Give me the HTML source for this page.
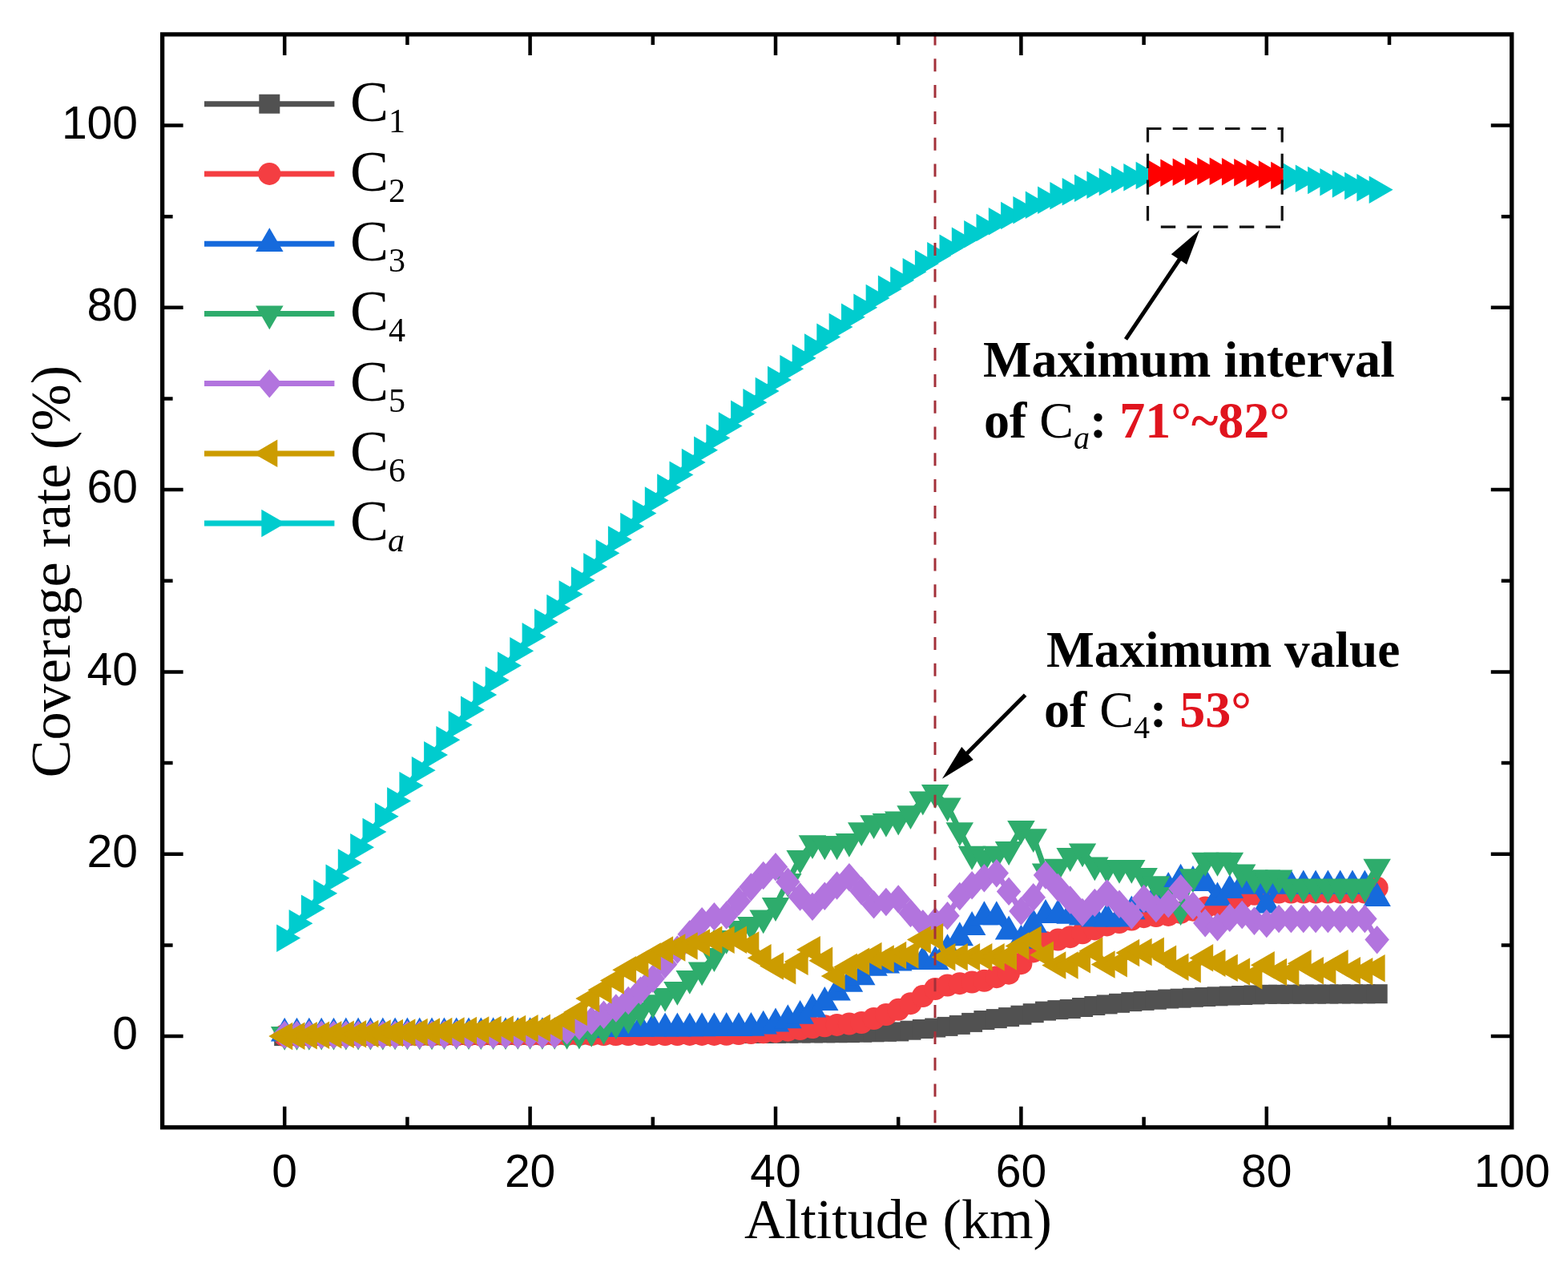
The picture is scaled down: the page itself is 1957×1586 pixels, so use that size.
<!DOCTYPE html>
<html><head><meta charset="utf-8"><style>
html,body{margin:0;padding:0;background:#fff;}
svg{display:block;}
.tk{font-family:"Liberation Sans",Arial,sans-serif;font-size:57px;fill:#000;}
.ti{font-family:"Liberation Serif","Times New Roman",serif;font-size:70.2px;fill:#000;}
.lg{font-family:"Liberation Serif","Times New Roman",serif;font-size:72px;fill:#000;}
.lg .sb{font-size:42px;font-style:normal;}
.an{font-family:"Liberation Serif","Times New Roman",serif;font-size:64px;font-weight:bold;fill:#000;}
.an .it{font-weight:normal;font-style:italic;}
.an .sb{font-size:40px;font-weight:normal;}
.an .cc{font-weight:normal;}
.an .rd{fill:#e0141e;}
</style></head><body>
<svg width="1957" height="1586" viewBox="0 0 1957 1586">
<rect width="1957" height="1586" fill="#fff"/>
<g>
<path d="M355.2,1293.1L370.5,1293.0L385.8,1292.9L401.2,1292.9L416.5,1292.8L431.8,1292.7L447.1,1292.6L462.4,1292.6L477.8,1292.5L493.1,1292.4L508.4,1292.3L523.7,1292.3L539.0,1292.2L554.4,1292.1L569.7,1292.0L585.0,1292.0L600.3,1291.9L615.6,1291.8L631.0,1291.7L646.3,1291.7L661.6,1291.6L676.9,1291.5L692.2,1291.4L707.6,1291.4L722.9,1291.3L738.2,1291.2L753.5,1291.1L768.8,1291.1L784.2,1291.0L799.5,1290.9L814.8,1290.8L830.1,1290.7L845.4,1290.6L860.8,1290.5L876.1,1290.4L891.4,1290.3L906.7,1290.2L922.0,1290.1L937.4,1290.0L952.7,1289.9L968.0,1289.8L983.3,1289.7L998.6,1289.5L1014.0,1289.4L1029.3,1289.3L1044.6,1289.2L1059.9,1289.1L1075.2,1288.7L1090.6,1288.3L1105.9,1287.8L1121.2,1287.4L1136.5,1285.7L1151.8,1284.0L1167.2,1282.5L1182.5,1280.9L1197.8,1278.9L1213.1,1275.9L1228.4,1273.0L1243.8,1271.1L1259.1,1269.1L1274.4,1266.7L1289.7,1264.2L1305.0,1261.6L1320.4,1260.1L1335.7,1259.0L1351.0,1257.0L1366.3,1255.0L1381.6,1253.4L1397.0,1251.8L1412.3,1250.1L1427.6,1248.9L1442.9,1247.7L1458.2,1246.5L1473.6,1245.7L1488.9,1244.8L1504.2,1244.0L1519.5,1243.3L1534.8,1242.6L1550.2,1242.0L1565.5,1241.4L1580.8,1240.8L1596.1,1240.8L1611.4,1240.7L1626.8,1240.6L1642.1,1240.6L1657.4,1240.5L1672.7,1240.4L1688.0,1240.4L1703.4,1240.3L1718.7,1240.2" fill="none" stroke="#515151" stroke-width="7" stroke-linejoin="round"/>
<rect x="342.2" y="1281.1" width="26" height="24" fill="#515151"/>
<rect x="357.5" y="1281.0" width="26" height="24" fill="#515151"/>
<rect x="372.8" y="1280.9" width="26" height="24" fill="#515151"/>
<rect x="388.2" y="1280.9" width="26" height="24" fill="#515151"/>
<rect x="403.5" y="1280.8" width="26" height="24" fill="#515151"/>
<rect x="418.8" y="1280.7" width="26" height="24" fill="#515151"/>
<rect x="434.1" y="1280.6" width="26" height="24" fill="#515151"/>
<rect x="449.4" y="1280.6" width="26" height="24" fill="#515151"/>
<rect x="464.8" y="1280.5" width="26" height="24" fill="#515151"/>
<rect x="480.1" y="1280.4" width="26" height="24" fill="#515151"/>
<rect x="495.4" y="1280.3" width="26" height="24" fill="#515151"/>
<rect x="510.7" y="1280.3" width="26" height="24" fill="#515151"/>
<rect x="526.0" y="1280.2" width="26" height="24" fill="#515151"/>
<rect x="541.4" y="1280.1" width="26" height="24" fill="#515151"/>
<rect x="556.7" y="1280.0" width="26" height="24" fill="#515151"/>
<rect x="572.0" y="1280.0" width="26" height="24" fill="#515151"/>
<rect x="587.3" y="1279.9" width="26" height="24" fill="#515151"/>
<rect x="602.6" y="1279.8" width="26" height="24" fill="#515151"/>
<rect x="618.0" y="1279.7" width="26" height="24" fill="#515151"/>
<rect x="633.3" y="1279.7" width="26" height="24" fill="#515151"/>
<rect x="648.6" y="1279.6" width="26" height="24" fill="#515151"/>
<rect x="663.9" y="1279.5" width="26" height="24" fill="#515151"/>
<rect x="679.2" y="1279.4" width="26" height="24" fill="#515151"/>
<rect x="694.6" y="1279.4" width="26" height="24" fill="#515151"/>
<rect x="709.9" y="1279.3" width="26" height="24" fill="#515151"/>
<rect x="725.2" y="1279.2" width="26" height="24" fill="#515151"/>
<rect x="740.5" y="1279.1" width="26" height="24" fill="#515151"/>
<rect x="755.8" y="1279.1" width="26" height="24" fill="#515151"/>
<rect x="771.2" y="1279.0" width="26" height="24" fill="#515151"/>
<rect x="786.5" y="1278.9" width="26" height="24" fill="#515151"/>
<rect x="801.8" y="1278.8" width="26" height="24" fill="#515151"/>
<rect x="817.1" y="1278.7" width="26" height="24" fill="#515151"/>
<rect x="832.4" y="1278.6" width="26" height="24" fill="#515151"/>
<rect x="847.8" y="1278.5" width="26" height="24" fill="#515151"/>
<rect x="863.1" y="1278.4" width="26" height="24" fill="#515151"/>
<rect x="878.4" y="1278.3" width="26" height="24" fill="#515151"/>
<rect x="893.7" y="1278.2" width="26" height="24" fill="#515151"/>
<rect x="909.0" y="1278.1" width="26" height="24" fill="#515151"/>
<rect x="924.4" y="1278.0" width="26" height="24" fill="#515151"/>
<rect x="939.7" y="1277.9" width="26" height="24" fill="#515151"/>
<rect x="955.0" y="1277.8" width="26" height="24" fill="#515151"/>
<rect x="970.3" y="1277.7" width="26" height="24" fill="#515151"/>
<rect x="985.6" y="1277.5" width="26" height="24" fill="#515151"/>
<rect x="1001.0" y="1277.4" width="26" height="24" fill="#515151"/>
<rect x="1016.3" y="1277.3" width="26" height="24" fill="#515151"/>
<rect x="1031.6" y="1277.2" width="26" height="24" fill="#515151"/>
<rect x="1046.9" y="1277.1" width="26" height="24" fill="#515151"/>
<rect x="1062.2" y="1276.7" width="26" height="24" fill="#515151"/>
<rect x="1077.6" y="1276.3" width="26" height="24" fill="#515151"/>
<rect x="1092.9" y="1275.8" width="26" height="24" fill="#515151"/>
<rect x="1108.2" y="1275.4" width="26" height="24" fill="#515151"/>
<rect x="1123.5" y="1273.7" width="26" height="24" fill="#515151"/>
<rect x="1138.8" y="1272.0" width="26" height="24" fill="#515151"/>
<rect x="1154.2" y="1270.5" width="26" height="24" fill="#515151"/>
<rect x="1169.5" y="1268.9" width="26" height="24" fill="#515151"/>
<rect x="1184.8" y="1266.9" width="26" height="24" fill="#515151"/>
<rect x="1200.1" y="1263.9" width="26" height="24" fill="#515151"/>
<rect x="1215.4" y="1261.0" width="26" height="24" fill="#515151"/>
<rect x="1230.8" y="1259.1" width="26" height="24" fill="#515151"/>
<rect x="1246.1" y="1257.1" width="26" height="24" fill="#515151"/>
<rect x="1261.4" y="1254.7" width="26" height="24" fill="#515151"/>
<rect x="1276.7" y="1252.2" width="26" height="24" fill="#515151"/>
<rect x="1292.0" y="1249.6" width="26" height="24" fill="#515151"/>
<rect x="1307.4" y="1248.1" width="26" height="24" fill="#515151"/>
<rect x="1322.7" y="1247.0" width="26" height="24" fill="#515151"/>
<rect x="1338.0" y="1245.0" width="26" height="24" fill="#515151"/>
<rect x="1353.3" y="1243.0" width="26" height="24" fill="#515151"/>
<rect x="1368.6" y="1241.4" width="26" height="24" fill="#515151"/>
<rect x="1384.0" y="1239.8" width="26" height="24" fill="#515151"/>
<rect x="1399.3" y="1238.1" width="26" height="24" fill="#515151"/>
<rect x="1414.6" y="1236.9" width="26" height="24" fill="#515151"/>
<rect x="1429.9" y="1235.7" width="26" height="24" fill="#515151"/>
<rect x="1445.2" y="1234.5" width="26" height="24" fill="#515151"/>
<rect x="1460.6" y="1233.7" width="26" height="24" fill="#515151"/>
<rect x="1475.9" y="1232.8" width="26" height="24" fill="#515151"/>
<rect x="1491.2" y="1232.0" width="26" height="24" fill="#515151"/>
<rect x="1506.5" y="1231.3" width="26" height="24" fill="#515151"/>
<rect x="1521.8" y="1230.6" width="26" height="24" fill="#515151"/>
<rect x="1537.2" y="1230.0" width="26" height="24" fill="#515151"/>
<rect x="1552.5" y="1229.4" width="26" height="24" fill="#515151"/>
<rect x="1567.8" y="1228.8" width="26" height="24" fill="#515151"/>
<rect x="1583.1" y="1228.8" width="26" height="24" fill="#515151"/>
<rect x="1598.4" y="1228.7" width="26" height="24" fill="#515151"/>
<rect x="1613.8" y="1228.6" width="26" height="24" fill="#515151"/>
<rect x="1629.1" y="1228.6" width="26" height="24" fill="#515151"/>
<rect x="1644.4" y="1228.5" width="26" height="24" fill="#515151"/>
<rect x="1659.7" y="1228.4" width="26" height="24" fill="#515151"/>
<rect x="1675.0" y="1228.4" width="26" height="24" fill="#515151"/>
<rect x="1690.4" y="1228.3" width="26" height="24" fill="#515151"/>
<rect x="1705.7" y="1228.2" width="26" height="24" fill="#515151"/>
<path d="M355.2,1292.0L370.5,1291.9L385.8,1291.9L401.2,1291.9L416.5,1291.8L431.8,1291.8L447.1,1291.8L462.4,1291.7L477.8,1291.7L493.1,1291.7L508.4,1291.6L523.7,1291.6L539.0,1291.6L554.4,1291.6L569.7,1291.5L585.0,1291.5L600.3,1291.5L615.6,1291.4L631.0,1291.4L646.3,1291.4L661.6,1291.3L676.9,1291.3L692.2,1291.3L707.6,1291.2L722.9,1291.2L738.2,1291.2L753.5,1291.1L768.8,1291.1L784.2,1291.1L799.5,1291.0L814.8,1291.0L830.1,1291.0L845.4,1291.0L860.8,1290.9L876.1,1290.9L891.4,1290.9L906.7,1290.8L922.0,1290.0L937.4,1289.1L952.7,1288.3L968.0,1287.4L983.3,1285.7L998.6,1284.0L1014.0,1282.1L1029.3,1280.3L1044.6,1278.9L1059.9,1277.5L1075.2,1276.1L1090.6,1271.0L1105.9,1266.0L1121.2,1259.8L1136.5,1252.2L1151.8,1243.1L1167.2,1234.0L1182.5,1229.5L1197.8,1227.2L1213.1,1225.5L1228.4,1223.8L1243.8,1219.2L1259.1,1214.7L1274.4,1202.2L1289.7,1187.4L1305.0,1176.0L1320.4,1172.6L1335.7,1169.2L1351.0,1164.3L1366.3,1159.4L1381.6,1154.4L1397.0,1151.0L1412.3,1147.6L1427.6,1144.2L1442.9,1143.1L1458.2,1141.9L1473.6,1138.8L1488.9,1135.7L1504.2,1132.6L1519.5,1129.4L1534.8,1124.9L1550.2,1120.3L1565.5,1115.8L1580.8,1113.5L1596.1,1113.5L1611.4,1113.5L1626.8,1113.5L1642.1,1113.5L1657.4,1113.5L1672.7,1113.5L1688.0,1113.5L1703.4,1113.5L1718.7,1107.8" fill="none" stroke="#f43e42" stroke-width="7" stroke-linejoin="round"/>
<circle cx="355.2" cy="1292.0" r="14.0" fill="#f43e42"/>
<circle cx="370.5" cy="1291.9" r="14.0" fill="#f43e42"/>
<circle cx="385.8" cy="1291.9" r="14.0" fill="#f43e42"/>
<circle cx="401.2" cy="1291.9" r="14.0" fill="#f43e42"/>
<circle cx="416.5" cy="1291.8" r="14.0" fill="#f43e42"/>
<circle cx="431.8" cy="1291.8" r="14.0" fill="#f43e42"/>
<circle cx="447.1" cy="1291.8" r="14.0" fill="#f43e42"/>
<circle cx="462.4" cy="1291.7" r="14.0" fill="#f43e42"/>
<circle cx="477.8" cy="1291.7" r="14.0" fill="#f43e42"/>
<circle cx="493.1" cy="1291.7" r="14.0" fill="#f43e42"/>
<circle cx="508.4" cy="1291.6" r="14.0" fill="#f43e42"/>
<circle cx="523.7" cy="1291.6" r="14.0" fill="#f43e42"/>
<circle cx="539.0" cy="1291.6" r="14.0" fill="#f43e42"/>
<circle cx="554.4" cy="1291.6" r="14.0" fill="#f43e42"/>
<circle cx="569.7" cy="1291.5" r="14.0" fill="#f43e42"/>
<circle cx="585.0" cy="1291.5" r="14.0" fill="#f43e42"/>
<circle cx="600.3" cy="1291.5" r="14.0" fill="#f43e42"/>
<circle cx="615.6" cy="1291.4" r="14.0" fill="#f43e42"/>
<circle cx="631.0" cy="1291.4" r="14.0" fill="#f43e42"/>
<circle cx="646.3" cy="1291.4" r="14.0" fill="#f43e42"/>
<circle cx="661.6" cy="1291.3" r="14.0" fill="#f43e42"/>
<circle cx="676.9" cy="1291.3" r="14.0" fill="#f43e42"/>
<circle cx="692.2" cy="1291.3" r="14.0" fill="#f43e42"/>
<circle cx="707.6" cy="1291.2" r="14.0" fill="#f43e42"/>
<circle cx="722.9" cy="1291.2" r="14.0" fill="#f43e42"/>
<circle cx="738.2" cy="1291.2" r="14.0" fill="#f43e42"/>
<circle cx="753.5" cy="1291.1" r="14.0" fill="#f43e42"/>
<circle cx="768.8" cy="1291.1" r="14.0" fill="#f43e42"/>
<circle cx="784.2" cy="1291.1" r="14.0" fill="#f43e42"/>
<circle cx="799.5" cy="1291.0" r="14.0" fill="#f43e42"/>
<circle cx="814.8" cy="1291.0" r="14.0" fill="#f43e42"/>
<circle cx="830.1" cy="1291.0" r="14.0" fill="#f43e42"/>
<circle cx="845.4" cy="1291.0" r="14.0" fill="#f43e42"/>
<circle cx="860.8" cy="1290.9" r="14.0" fill="#f43e42"/>
<circle cx="876.1" cy="1290.9" r="14.0" fill="#f43e42"/>
<circle cx="891.4" cy="1290.9" r="14.0" fill="#f43e42"/>
<circle cx="906.7" cy="1290.8" r="14.0" fill="#f43e42"/>
<circle cx="922.0" cy="1290.0" r="14.0" fill="#f43e42"/>
<circle cx="937.4" cy="1289.1" r="14.0" fill="#f43e42"/>
<circle cx="952.7" cy="1288.3" r="14.0" fill="#f43e42"/>
<circle cx="968.0" cy="1287.4" r="14.0" fill="#f43e42"/>
<circle cx="983.3" cy="1285.7" r="14.0" fill="#f43e42"/>
<circle cx="998.6" cy="1284.0" r="14.0" fill="#f43e42"/>
<circle cx="1014.0" cy="1282.1" r="14.0" fill="#f43e42"/>
<circle cx="1029.3" cy="1280.3" r="14.0" fill="#f43e42"/>
<circle cx="1044.6" cy="1278.9" r="14.0" fill="#f43e42"/>
<circle cx="1059.9" cy="1277.5" r="14.0" fill="#f43e42"/>
<circle cx="1075.2" cy="1276.1" r="14.0" fill="#f43e42"/>
<circle cx="1090.6" cy="1271.0" r="14.0" fill="#f43e42"/>
<circle cx="1105.9" cy="1266.0" r="14.0" fill="#f43e42"/>
<circle cx="1121.2" cy="1259.8" r="14.0" fill="#f43e42"/>
<circle cx="1136.5" cy="1252.2" r="14.0" fill="#f43e42"/>
<circle cx="1151.8" cy="1243.1" r="14.0" fill="#f43e42"/>
<circle cx="1167.2" cy="1234.0" r="14.0" fill="#f43e42"/>
<circle cx="1182.5" cy="1229.5" r="14.0" fill="#f43e42"/>
<circle cx="1197.8" cy="1227.2" r="14.0" fill="#f43e42"/>
<circle cx="1213.1" cy="1225.5" r="14.0" fill="#f43e42"/>
<circle cx="1228.4" cy="1223.8" r="14.0" fill="#f43e42"/>
<circle cx="1243.8" cy="1219.2" r="14.0" fill="#f43e42"/>
<circle cx="1259.1" cy="1214.7" r="14.0" fill="#f43e42"/>
<circle cx="1274.4" cy="1202.2" r="14.0" fill="#f43e42"/>
<circle cx="1289.7" cy="1187.4" r="14.0" fill="#f43e42"/>
<circle cx="1305.0" cy="1176.0" r="14.0" fill="#f43e42"/>
<circle cx="1320.4" cy="1172.6" r="14.0" fill="#f43e42"/>
<circle cx="1335.7" cy="1169.2" r="14.0" fill="#f43e42"/>
<circle cx="1351.0" cy="1164.3" r="14.0" fill="#f43e42"/>
<circle cx="1366.3" cy="1159.4" r="14.0" fill="#f43e42"/>
<circle cx="1381.6" cy="1154.4" r="14.0" fill="#f43e42"/>
<circle cx="1397.0" cy="1151.0" r="14.0" fill="#f43e42"/>
<circle cx="1412.3" cy="1147.6" r="14.0" fill="#f43e42"/>
<circle cx="1427.6" cy="1144.2" r="14.0" fill="#f43e42"/>
<circle cx="1442.9" cy="1143.1" r="14.0" fill="#f43e42"/>
<circle cx="1458.2" cy="1141.9" r="14.0" fill="#f43e42"/>
<circle cx="1473.6" cy="1138.8" r="14.0" fill="#f43e42"/>
<circle cx="1488.9" cy="1135.7" r="14.0" fill="#f43e42"/>
<circle cx="1504.2" cy="1132.6" r="14.0" fill="#f43e42"/>
<circle cx="1519.5" cy="1129.4" r="14.0" fill="#f43e42"/>
<circle cx="1534.8" cy="1124.9" r="14.0" fill="#f43e42"/>
<circle cx="1550.2" cy="1120.3" r="14.0" fill="#f43e42"/>
<circle cx="1565.5" cy="1115.8" r="14.0" fill="#f43e42"/>
<circle cx="1580.8" cy="1113.5" r="14.0" fill="#f43e42"/>
<circle cx="1596.1" cy="1113.5" r="14.0" fill="#f43e42"/>
<circle cx="1611.4" cy="1113.5" r="14.0" fill="#f43e42"/>
<circle cx="1626.8" cy="1113.5" r="14.0" fill="#f43e42"/>
<circle cx="1642.1" cy="1113.5" r="14.0" fill="#f43e42"/>
<circle cx="1657.4" cy="1113.5" r="14.0" fill="#f43e42"/>
<circle cx="1672.7" cy="1113.5" r="14.0" fill="#f43e42"/>
<circle cx="1688.0" cy="1113.5" r="14.0" fill="#f43e42"/>
<circle cx="1703.4" cy="1113.5" r="14.0" fill="#f43e42"/>
<circle cx="1718.7" cy="1107.8" r="14.0" fill="#f43e42"/>
<path d="M355.2,1289.7L370.5,1289.7L385.8,1289.6L401.2,1289.6L416.5,1289.6L431.8,1289.6L447.1,1289.5L462.4,1289.5L477.8,1289.5L493.1,1289.5L508.4,1289.4L523.7,1289.4L539.0,1289.4L554.4,1289.4L569.7,1289.3L585.0,1289.3L600.3,1289.3L615.6,1289.3L631.0,1289.2L646.3,1289.2L661.6,1289.2L676.9,1289.1L692.2,1289.1L707.6,1287.8L722.9,1286.6L738.2,1285.3L753.5,1284.0L768.8,1283.9L784.2,1283.8L799.5,1283.7L814.8,1283.6L830.1,1283.5L845.4,1283.4L860.8,1283.3L876.1,1283.2L891.4,1283.2L906.7,1283.1L922.0,1283.0L937.4,1282.9L952.7,1280.6L968.0,1277.4L983.3,1273.3L998.6,1267.8L1014.0,1259.4L1029.3,1251.0L1044.6,1238.5L1059.9,1227.7L1075.2,1219.2L1090.6,1207.9L1105.9,1204.5L1121.2,1201.6L1136.5,1199.9L1151.8,1199.9L1167.2,1199.9L1182.5,1185.1L1197.8,1170.2L1213.1,1156.9L1228.4,1144.2L1243.8,1144.2L1259.1,1162.4L1274.4,1173.8L1289.7,1153.9L1305.0,1141.9L1320.4,1141.9L1335.7,1142.8L1351.0,1144.7L1366.3,1146.5L1381.6,1146.5L1397.0,1146.5L1412.3,1137.4L1427.6,1128.3L1442.9,1118.1L1458.2,1107.8L1473.6,1097.6L1488.9,1099.9L1504.2,1102.2L1519.5,1120.3L1534.8,1111.1L1550.2,1105.6L1565.5,1105.6L1580.8,1129.4L1596.1,1105.6L1611.4,1105.6L1626.8,1105.6L1642.1,1105.6L1657.4,1105.6L1672.7,1105.6L1688.0,1105.6L1703.4,1105.6L1718.7,1120.9" fill="none" stroke="#166adc" stroke-width="7" stroke-linejoin="round"/>
<path d="M355.2,1269.8L372.4,1299.6L337.9,1299.6Z" fill="#166adc"/>
<path d="M370.5,1269.7L387.8,1299.6L353.3,1299.6Z" fill="#166adc"/>
<path d="M385.8,1269.7L403.1,1299.6L368.6,1299.6Z" fill="#166adc"/>
<path d="M401.2,1269.7L418.4,1299.6L383.9,1299.6Z" fill="#166adc"/>
<path d="M416.5,1269.7L433.7,1299.5L399.2,1299.5Z" fill="#166adc"/>
<path d="M431.8,1269.6L449.0,1299.5L414.5,1299.5Z" fill="#166adc"/>
<path d="M447.1,1269.6L464.4,1299.5L429.9,1299.5Z" fill="#166adc"/>
<path d="M462.4,1269.6L479.7,1299.5L445.2,1299.5Z" fill="#166adc"/>
<path d="M477.8,1269.6L495.0,1299.4L460.5,1299.4Z" fill="#166adc"/>
<path d="M493.1,1269.5L510.3,1299.4L475.8,1299.4Z" fill="#166adc"/>
<path d="M508.4,1269.5L525.6,1299.4L491.1,1299.4Z" fill="#166adc"/>
<path d="M523.7,1269.5L541.0,1299.4L506.5,1299.4Z" fill="#166adc"/>
<path d="M539.0,1269.5L556.3,1299.3L521.8,1299.3Z" fill="#166adc"/>
<path d="M554.4,1269.4L571.6,1299.3L537.1,1299.3Z" fill="#166adc"/>
<path d="M569.7,1269.4L586.9,1299.3L552.4,1299.3Z" fill="#166adc"/>
<path d="M585.0,1269.4L602.2,1299.3L567.8,1299.3Z" fill="#166adc"/>
<path d="M600.3,1269.4L617.6,1299.2L583.1,1299.2Z" fill="#166adc"/>
<path d="M615.6,1269.3L632.9,1299.2L598.4,1299.2Z" fill="#166adc"/>
<path d="M631.0,1269.3L648.2,1299.2L613.7,1299.2Z" fill="#166adc"/>
<path d="M646.3,1269.3L663.5,1299.2L629.0,1299.2Z" fill="#166adc"/>
<path d="M661.6,1269.3L678.8,1299.1L644.3,1299.1Z" fill="#166adc"/>
<path d="M676.9,1269.2L694.2,1299.1L659.7,1299.1Z" fill="#166adc"/>
<path d="M692.2,1269.2L709.5,1299.1L675.0,1299.1Z" fill="#166adc"/>
<path d="M707.6,1267.9L724.8,1297.8L690.3,1297.8Z" fill="#166adc"/>
<path d="M722.9,1266.6L740.1,1296.5L705.6,1296.5Z" fill="#166adc"/>
<path d="M738.2,1265.4L755.5,1295.2L721.0,1295.2Z" fill="#166adc"/>
<path d="M753.5,1264.1L770.8,1294.0L736.3,1294.0Z" fill="#166adc"/>
<path d="M768.8,1264.0L786.1,1293.9L751.6,1293.9Z" fill="#166adc"/>
<path d="M784.2,1263.9L801.4,1293.8L766.9,1293.8Z" fill="#166adc"/>
<path d="M799.5,1263.8L816.7,1293.7L782.2,1293.7Z" fill="#166adc"/>
<path d="M814.8,1263.7L832.0,1293.6L797.5,1293.6Z" fill="#166adc"/>
<path d="M830.1,1263.6L847.4,1293.5L812.9,1293.5Z" fill="#166adc"/>
<path d="M845.4,1263.5L862.7,1293.4L828.2,1293.4Z" fill="#166adc"/>
<path d="M860.8,1263.4L878.0,1293.3L843.5,1293.3Z" fill="#166adc"/>
<path d="M876.1,1263.3L893.3,1293.2L858.8,1293.2Z" fill="#166adc"/>
<path d="M891.4,1263.2L908.7,1293.1L874.2,1293.1Z" fill="#166adc"/>
<path d="M906.7,1263.1L924.0,1293.0L889.5,1293.0Z" fill="#166adc"/>
<path d="M922.0,1263.0L939.3,1292.9L904.8,1292.9Z" fill="#166adc"/>
<path d="M937.4,1263.0L954.6,1292.8L920.1,1292.8Z" fill="#166adc"/>
<path d="M952.7,1260.7L969.9,1290.6L935.4,1290.6Z" fill="#166adc"/>
<path d="M968.0,1257.5L985.2,1287.4L950.8,1287.4Z" fill="#166adc"/>
<path d="M983.3,1253.3L1000.6,1283.2L966.1,1283.2Z" fill="#166adc"/>
<path d="M998.6,1247.9L1015.9,1277.8L981.4,1277.8Z" fill="#166adc"/>
<path d="M1014.0,1239.5L1031.2,1269.4L996.7,1269.4Z" fill="#166adc"/>
<path d="M1029.3,1231.1L1046.5,1261.0L1012.0,1261.0Z" fill="#166adc"/>
<path d="M1044.6,1218.6L1061.8,1248.5L1027.3,1248.5Z" fill="#166adc"/>
<path d="M1059.9,1207.8L1077.2,1237.7L1042.7,1237.7Z" fill="#166adc"/>
<path d="M1075.2,1199.3L1092.5,1229.2L1058.0,1229.2Z" fill="#166adc"/>
<path d="M1090.6,1187.9L1107.8,1217.8L1073.3,1217.8Z" fill="#166adc"/>
<path d="M1105.9,1184.6L1123.1,1214.5L1088.6,1214.5Z" fill="#166adc"/>
<path d="M1121.2,1181.7L1138.5,1211.6L1104.0,1211.6Z" fill="#166adc"/>
<path d="M1136.5,1180.0L1153.8,1209.9L1119.3,1209.9Z" fill="#166adc"/>
<path d="M1151.8,1180.0L1169.1,1209.9L1134.6,1209.9Z" fill="#166adc"/>
<path d="M1167.2,1180.0L1184.4,1209.9L1149.9,1209.9Z" fill="#166adc"/>
<path d="M1182.5,1165.2L1199.7,1195.0L1165.2,1195.0Z" fill="#166adc"/>
<path d="M1197.8,1150.3L1215.0,1180.2L1180.5,1180.2Z" fill="#166adc"/>
<path d="M1213.1,1137.0L1230.4,1166.9L1195.9,1166.9Z" fill="#166adc"/>
<path d="M1228.4,1124.3L1245.7,1154.2L1211.2,1154.2Z" fill="#166adc"/>
<path d="M1243.8,1124.3L1261.0,1154.2L1226.5,1154.2Z" fill="#166adc"/>
<path d="M1259.1,1142.5L1276.3,1172.4L1241.8,1172.4Z" fill="#166adc"/>
<path d="M1274.4,1153.8L1291.7,1183.7L1257.2,1183.7Z" fill="#166adc"/>
<path d="M1289.7,1133.9L1307.0,1163.8L1272.5,1163.8Z" fill="#166adc"/>
<path d="M1305.0,1122.0L1322.3,1151.9L1287.8,1151.9Z" fill="#166adc"/>
<path d="M1320.4,1122.0L1337.6,1151.9L1303.1,1151.9Z" fill="#166adc"/>
<path d="M1335.7,1122.9L1352.9,1152.8L1318.4,1152.8Z" fill="#166adc"/>
<path d="M1351.0,1124.7L1368.2,1154.6L1333.8,1154.6Z" fill="#166adc"/>
<path d="M1366.3,1126.6L1383.6,1156.4L1349.1,1156.4Z" fill="#166adc"/>
<path d="M1381.6,1126.6L1398.9,1156.4L1364.4,1156.4Z" fill="#166adc"/>
<path d="M1397.0,1126.6L1414.2,1156.4L1379.7,1156.4Z" fill="#166adc"/>
<path d="M1412.3,1117.5L1429.5,1147.3L1395.0,1147.3Z" fill="#166adc"/>
<path d="M1427.6,1108.4L1444.9,1138.3L1410.4,1138.3Z" fill="#166adc"/>
<path d="M1442.9,1098.1L1460.2,1128.0L1425.7,1128.0Z" fill="#166adc"/>
<path d="M1458.2,1087.9L1475.5,1117.8L1441.0,1117.8Z" fill="#166adc"/>
<path d="M1473.6,1077.7L1490.8,1107.6L1456.3,1107.6Z" fill="#166adc"/>
<path d="M1488.9,1080.0L1506.1,1109.8L1471.6,1109.8Z" fill="#166adc"/>
<path d="M1504.2,1082.2L1521.5,1112.1L1487.0,1112.1Z" fill="#166adc"/>
<path d="M1519.5,1100.4L1536.8,1130.3L1502.3,1130.3Z" fill="#166adc"/>
<path d="M1534.8,1091.2L1552.1,1121.1L1517.6,1121.1Z" fill="#166adc"/>
<path d="M1550.2,1085.6L1567.4,1115.5L1532.9,1115.5Z" fill="#166adc"/>
<path d="M1565.5,1085.6L1582.7,1115.5L1548.2,1115.5Z" fill="#166adc"/>
<path d="M1580.8,1109.5L1598.0,1139.4L1563.5,1139.4Z" fill="#166adc"/>
<path d="M1596.1,1085.6L1613.4,1115.5L1578.9,1115.5Z" fill="#166adc"/>
<path d="M1611.4,1085.6L1628.7,1115.5L1594.2,1115.5Z" fill="#166adc"/>
<path d="M1626.8,1085.6L1644.0,1115.5L1609.5,1115.5Z" fill="#166adc"/>
<path d="M1642.1,1085.6L1659.3,1115.5L1624.8,1115.5Z" fill="#166adc"/>
<path d="M1657.4,1085.6L1674.7,1115.5L1640.2,1115.5Z" fill="#166adc"/>
<path d="M1672.7,1085.6L1690.0,1115.5L1655.5,1115.5Z" fill="#166adc"/>
<path d="M1688.0,1085.6L1705.3,1115.5L1670.8,1115.5Z" fill="#166adc"/>
<path d="M1703.4,1085.6L1720.6,1115.5L1686.1,1115.5Z" fill="#166adc"/>
<path d="M1718.7,1101.0L1735.9,1130.9L1701.4,1130.9Z" fill="#166adc"/>
<path d="M355.2,1290.8L370.5,1290.8L385.8,1290.7L401.2,1290.7L416.5,1290.6L431.8,1290.6L447.1,1290.5L462.4,1290.5L477.8,1290.4L493.1,1290.4L508.4,1290.4L523.7,1290.3L539.0,1290.3L554.4,1290.2L569.7,1290.2L585.0,1290.1L600.3,1290.1L615.6,1290.0L631.0,1290.0L646.3,1289.9L661.6,1289.9L676.9,1289.8L692.2,1289.8L707.6,1289.7L722.9,1289.7L738.2,1286.8L753.5,1284.0L768.8,1277.2L784.2,1270.4L799.5,1260.8L814.8,1251.3L830.1,1242.8L845.4,1234.8L860.8,1220.9L876.1,1210.4L891.4,1192.9L906.7,1170.9L922.0,1159.0L937.4,1153.9L952.7,1145.3L968.0,1130.0L983.3,1099.9L998.6,1070.9L1014.0,1052.1L1029.3,1053.3L1044.6,1053.3L1059.9,1049.9L1075.2,1036.2L1090.6,1027.1L1105.9,1024.9L1121.2,1022.6L1136.5,1015.2L1151.8,997.6L1167.2,989.1L1182.5,1005.5L1197.8,1036.2L1213.1,1065.8L1228.4,1070.3L1243.8,1065.8L1259.1,1060.1L1274.4,1034.0L1289.7,1044.2L1305.0,1087.4L1320.4,1081.7L1335.7,1068.1L1351.0,1062.4L1366.3,1079.4L1381.6,1082.8L1397.0,1082.8L1412.3,1082.8L1427.6,1093.1L1442.9,1103.3L1458.2,1116.9L1473.6,1135.1L1488.9,1094.2L1504.2,1073.7L1519.5,1073.7L1534.8,1073.7L1550.2,1088.5L1565.5,1095.3L1580.8,1095.3L1596.1,1095.3L1611.4,1106.7L1626.8,1106.7L1642.1,1106.7L1657.4,1106.7L1672.7,1106.7L1688.0,1106.7L1703.4,1106.7L1718.7,1081.7" fill="none" stroke="#2eac6c" stroke-width="7" stroke-linejoin="round"/>
<path d="M355.2,1310.7L372.4,1280.9L337.9,1280.9Z" fill="#2eac6c"/>
<path d="M370.5,1310.7L387.8,1280.8L353.3,1280.8Z" fill="#2eac6c"/>
<path d="M385.8,1310.7L403.1,1280.8L368.6,1280.8Z" fill="#2eac6c"/>
<path d="M401.2,1310.6L418.4,1280.7L383.9,1280.7Z" fill="#2eac6c"/>
<path d="M416.5,1310.6L433.7,1280.7L399.2,1280.7Z" fill="#2eac6c"/>
<path d="M431.8,1310.5L449.0,1280.6L414.5,1280.6Z" fill="#2eac6c"/>
<path d="M447.1,1310.5L464.4,1280.6L429.9,1280.6Z" fill="#2eac6c"/>
<path d="M462.4,1310.4L479.7,1280.5L445.2,1280.5Z" fill="#2eac6c"/>
<path d="M477.8,1310.4L495.0,1280.5L460.5,1280.5Z" fill="#2eac6c"/>
<path d="M493.1,1310.3L510.3,1280.4L475.8,1280.4Z" fill="#2eac6c"/>
<path d="M508.4,1310.3L525.6,1280.4L491.1,1280.4Z" fill="#2eac6c"/>
<path d="M523.7,1310.2L541.0,1280.3L506.5,1280.3Z" fill="#2eac6c"/>
<path d="M539.0,1310.2L556.3,1280.3L521.8,1280.3Z" fill="#2eac6c"/>
<path d="M554.4,1310.1L571.6,1280.3L537.1,1280.3Z" fill="#2eac6c"/>
<path d="M569.7,1310.1L586.9,1280.2L552.4,1280.2Z" fill="#2eac6c"/>
<path d="M585.0,1310.0L602.2,1280.2L567.8,1280.2Z" fill="#2eac6c"/>
<path d="M600.3,1310.0L617.6,1280.1L583.1,1280.1Z" fill="#2eac6c"/>
<path d="M615.6,1309.9L632.9,1280.1L598.4,1280.1Z" fill="#2eac6c"/>
<path d="M631.0,1309.9L648.2,1280.0L613.7,1280.0Z" fill="#2eac6c"/>
<path d="M646.3,1309.8L663.5,1280.0L629.0,1280.0Z" fill="#2eac6c"/>
<path d="M661.6,1309.8L678.8,1279.9L644.3,1279.9Z" fill="#2eac6c"/>
<path d="M676.9,1309.8L694.2,1279.9L659.7,1279.9Z" fill="#2eac6c"/>
<path d="M692.2,1309.7L709.5,1279.8L675.0,1279.8Z" fill="#2eac6c"/>
<path d="M707.6,1309.7L724.8,1279.8L690.3,1279.8Z" fill="#2eac6c"/>
<path d="M722.9,1309.6L740.1,1279.7L705.6,1279.7Z" fill="#2eac6c"/>
<path d="M738.2,1306.8L755.5,1276.9L721.0,1276.9Z" fill="#2eac6c"/>
<path d="M753.5,1303.9L770.8,1274.0L736.3,1274.0Z" fill="#2eac6c"/>
<path d="M768.8,1297.1L786.1,1267.2L751.6,1267.2Z" fill="#2eac6c"/>
<path d="M784.2,1290.3L801.4,1260.4L766.9,1260.4Z" fill="#2eac6c"/>
<path d="M799.5,1280.7L816.7,1250.9L782.2,1250.9Z" fill="#2eac6c"/>
<path d="M814.8,1271.2L832.0,1241.3L797.5,1241.3Z" fill="#2eac6c"/>
<path d="M830.1,1262.8L847.4,1232.9L812.9,1232.9Z" fill="#2eac6c"/>
<path d="M845.4,1254.8L862.7,1224.9L828.2,1224.9Z" fill="#2eac6c"/>
<path d="M860.8,1240.8L878.0,1210.9L843.5,1210.9Z" fill="#2eac6c"/>
<path d="M876.1,1230.3L893.3,1200.4L858.8,1200.4Z" fill="#2eac6c"/>
<path d="M891.4,1212.9L908.7,1183.0L874.2,1183.0Z" fill="#2eac6c"/>
<path d="M906.7,1190.8L924.0,1161.0L889.5,1161.0Z" fill="#2eac6c"/>
<path d="M922.0,1178.9L939.3,1149.0L904.8,1149.0Z" fill="#2eac6c"/>
<path d="M937.4,1173.8L954.6,1143.9L920.1,1143.9Z" fill="#2eac6c"/>
<path d="M952.7,1165.3L969.9,1135.4L935.4,1135.4Z" fill="#2eac6c"/>
<path d="M968.0,1149.9L985.2,1120.0L950.8,1120.0Z" fill="#2eac6c"/>
<path d="M983.3,1119.8L1000.6,1089.9L966.1,1089.9Z" fill="#2eac6c"/>
<path d="M998.6,1090.8L1015.9,1060.9L981.4,1060.9Z" fill="#2eac6c"/>
<path d="M1014.0,1072.1L1031.2,1042.2L996.7,1042.2Z" fill="#2eac6c"/>
<path d="M1029.3,1073.2L1046.5,1043.3L1012.0,1043.3Z" fill="#2eac6c"/>
<path d="M1044.6,1073.2L1061.8,1043.3L1027.3,1043.3Z" fill="#2eac6c"/>
<path d="M1059.9,1069.8L1077.2,1039.9L1042.7,1039.9Z" fill="#2eac6c"/>
<path d="M1075.2,1056.1L1092.5,1026.3L1058.0,1026.3Z" fill="#2eac6c"/>
<path d="M1090.6,1047.1L1107.8,1017.2L1073.3,1017.2Z" fill="#2eac6c"/>
<path d="M1105.9,1044.8L1123.1,1014.9L1088.6,1014.9Z" fill="#2eac6c"/>
<path d="M1121.2,1042.5L1138.5,1012.6L1104.0,1012.6Z" fill="#2eac6c"/>
<path d="M1136.5,1035.1L1153.8,1005.2L1119.3,1005.2Z" fill="#2eac6c"/>
<path d="M1151.8,1017.5L1169.1,987.6L1134.6,987.6Z" fill="#2eac6c"/>
<path d="M1167.2,1009.0L1184.4,979.1L1149.9,979.1Z" fill="#2eac6c"/>
<path d="M1182.5,1025.5L1199.7,995.6L1165.2,995.6Z" fill="#2eac6c"/>
<path d="M1197.8,1056.1L1215.0,1026.3L1180.5,1026.3Z" fill="#2eac6c"/>
<path d="M1213.1,1085.7L1230.4,1055.8L1195.9,1055.8Z" fill="#2eac6c"/>
<path d="M1228.4,1090.2L1245.7,1060.4L1211.2,1060.4Z" fill="#2eac6c"/>
<path d="M1243.8,1085.7L1261.0,1055.8L1226.5,1055.8Z" fill="#2eac6c"/>
<path d="M1259.1,1080.0L1276.3,1050.1L1241.8,1050.1Z" fill="#2eac6c"/>
<path d="M1274.4,1053.9L1291.7,1024.0L1257.2,1024.0Z" fill="#2eac6c"/>
<path d="M1289.7,1064.1L1307.0,1034.2L1272.5,1034.2Z" fill="#2eac6c"/>
<path d="M1305.0,1107.3L1322.3,1077.4L1287.8,1077.4Z" fill="#2eac6c"/>
<path d="M1320.4,1101.6L1337.6,1071.7L1303.1,1071.7Z" fill="#2eac6c"/>
<path d="M1335.7,1088.0L1352.9,1058.1L1318.4,1058.1Z" fill="#2eac6c"/>
<path d="M1351.0,1082.3L1368.2,1052.4L1333.8,1052.4Z" fill="#2eac6c"/>
<path d="M1366.3,1099.3L1383.6,1069.5L1349.1,1069.5Z" fill="#2eac6c"/>
<path d="M1381.6,1102.7L1398.9,1072.9L1364.4,1072.9Z" fill="#2eac6c"/>
<path d="M1397.0,1102.7L1414.2,1072.9L1379.7,1072.9Z" fill="#2eac6c"/>
<path d="M1412.3,1102.7L1429.5,1072.9L1395.0,1072.9Z" fill="#2eac6c"/>
<path d="M1427.6,1113.0L1444.9,1083.1L1410.4,1083.1Z" fill="#2eac6c"/>
<path d="M1442.9,1123.2L1460.2,1093.3L1425.7,1093.3Z" fill="#2eac6c"/>
<path d="M1458.2,1136.8L1475.5,1107.0L1441.0,1107.0Z" fill="#2eac6c"/>
<path d="M1473.6,1155.0L1490.8,1125.2L1456.3,1125.2Z" fill="#2eac6c"/>
<path d="M1488.9,1114.1L1506.1,1084.2L1471.6,1084.2Z" fill="#2eac6c"/>
<path d="M1504.2,1093.7L1521.5,1063.8L1487.0,1063.8Z" fill="#2eac6c"/>
<path d="M1519.5,1093.7L1536.8,1063.8L1502.3,1063.8Z" fill="#2eac6c"/>
<path d="M1534.8,1093.7L1552.1,1063.8L1517.6,1063.8Z" fill="#2eac6c"/>
<path d="M1550.2,1108.4L1567.4,1078.6L1532.9,1078.6Z" fill="#2eac6c"/>
<path d="M1565.5,1115.3L1582.7,1085.4L1548.2,1085.4Z" fill="#2eac6c"/>
<path d="M1580.8,1115.3L1598.0,1085.4L1563.5,1085.4Z" fill="#2eac6c"/>
<path d="M1596.1,1115.3L1613.4,1085.4L1578.9,1085.4Z" fill="#2eac6c"/>
<path d="M1611.4,1126.6L1628.7,1096.7L1594.2,1096.7Z" fill="#2eac6c"/>
<path d="M1626.8,1126.6L1644.0,1096.7L1609.5,1096.7Z" fill="#2eac6c"/>
<path d="M1642.1,1126.6L1659.3,1096.7L1624.8,1096.7Z" fill="#2eac6c"/>
<path d="M1657.4,1126.6L1674.7,1096.7L1640.2,1096.7Z" fill="#2eac6c"/>
<path d="M1672.7,1126.6L1690.0,1096.7L1655.5,1096.7Z" fill="#2eac6c"/>
<path d="M1688.0,1126.6L1705.3,1096.7L1670.8,1096.7Z" fill="#2eac6c"/>
<path d="M1703.4,1126.6L1720.6,1096.7L1686.1,1096.7Z" fill="#2eac6c"/>
<path d="M1718.7,1101.6L1735.9,1071.7L1701.4,1071.7Z" fill="#2eac6c"/>
<path d="M355.2,1291.4L370.5,1291.4L385.8,1291.3L401.2,1291.3L416.5,1291.3L431.8,1291.3L447.1,1291.2L462.4,1291.2L477.8,1291.2L493.1,1291.2L508.4,1291.1L523.7,1291.1L539.0,1291.1L554.4,1291.1L569.7,1291.0L585.0,1291.0L600.3,1291.0L615.6,1291.0L631.0,1290.9L646.3,1290.9L661.6,1290.9L676.9,1290.9L692.2,1290.8L707.6,1285.9L722.9,1280.2L738.2,1273.7L753.5,1266.2L768.8,1258.0L784.2,1248.5L799.5,1236.3L814.8,1221.1L830.1,1203.4L845.4,1185.0L860.8,1165.8L876.1,1149.8L891.4,1143.7L906.7,1142.0L922.0,1124.7L937.4,1106.9L952.7,1092.5L968.0,1081.7L983.3,1100.4L998.6,1119.0L1014.0,1131.3L1029.3,1118.1L1044.6,1104.9L1059.9,1094.8L1075.2,1111.8L1090.6,1128.9L1105.9,1125.5L1121.2,1122.1L1136.5,1139.4L1151.8,1152.7L1167.2,1149.9L1182.5,1142.8L1197.8,1118.5L1213.1,1104.8L1228.4,1095.6L1243.8,1089.6L1259.1,1112.4L1274.4,1137.0L1289.7,1119.7L1305.0,1091.9L1320.4,1107.5L1335.7,1123.0L1351.0,1138.5L1366.3,1126.6L1381.6,1114.7L1397.0,1128.3L1412.3,1141.9L1427.6,1121.5L1442.9,1133.6L1458.2,1127.9L1473.6,1108.8L1488.9,1130.3L1504.2,1151.7L1519.5,1156.7L1534.8,1145.3L1550.2,1141.6L1565.5,1149.1L1580.8,1152.6L1596.1,1146.5L1611.4,1146.5L1626.8,1146.5L1642.1,1146.5L1657.4,1146.5L1672.7,1146.5L1688.0,1146.5L1703.4,1146.5L1718.7,1172.6" fill="none" stroke="#b274de" stroke-width="7" stroke-linejoin="round"/>
<path d="M355.2,1273.6L370.4,1291.4L355.2,1309.1L339.9,1291.4Z" fill="#b274de"/>
<path d="M370.5,1273.6L385.8,1291.4L370.5,1309.1L355.3,1291.4Z" fill="#b274de"/>
<path d="M385.8,1273.6L401.1,1291.3L385.8,1309.1L370.6,1291.3Z" fill="#b274de"/>
<path d="M401.2,1273.6L416.4,1291.3L401.2,1309.1L385.9,1291.3Z" fill="#b274de"/>
<path d="M416.5,1273.5L431.7,1291.3L416.5,1309.0L401.2,1291.3Z" fill="#b274de"/>
<path d="M431.8,1273.5L447.0,1291.3L431.8,1309.0L416.5,1291.3Z" fill="#b274de"/>
<path d="M447.1,1273.5L462.4,1291.2L447.1,1309.0L431.9,1291.2Z" fill="#b274de"/>
<path d="M462.4,1273.5L477.7,1291.2L462.4,1309.0L447.2,1291.2Z" fill="#b274de"/>
<path d="M477.8,1273.4L493.0,1291.2L477.8,1308.9L462.5,1291.2Z" fill="#b274de"/>
<path d="M493.1,1273.4L508.3,1291.2L493.1,1308.9L477.8,1291.2Z" fill="#b274de"/>
<path d="M508.4,1273.4L523.6,1291.1L508.4,1308.9L493.1,1291.1Z" fill="#b274de"/>
<path d="M523.7,1273.4L539.0,1291.1L523.7,1308.9L508.5,1291.1Z" fill="#b274de"/>
<path d="M539.0,1273.3L554.3,1291.1L539.0,1308.8L523.8,1291.1Z" fill="#b274de"/>
<path d="M554.4,1273.3L569.6,1291.1L554.4,1308.8L539.1,1291.1Z" fill="#b274de"/>
<path d="M569.7,1273.3L584.9,1291.0L569.7,1308.8L554.4,1291.0Z" fill="#b274de"/>
<path d="M585.0,1273.3L600.2,1291.0L585.0,1308.8L569.8,1291.0Z" fill="#b274de"/>
<path d="M600.3,1273.2L615.6,1291.0L600.3,1308.7L585.1,1291.0Z" fill="#b274de"/>
<path d="M615.6,1273.2L630.9,1291.0L615.6,1308.7L600.4,1291.0Z" fill="#b274de"/>
<path d="M631.0,1273.2L646.2,1290.9L631.0,1308.7L615.7,1290.9Z" fill="#b274de"/>
<path d="M646.3,1273.2L661.5,1290.9L646.3,1308.7L631.0,1290.9Z" fill="#b274de"/>
<path d="M661.6,1273.1L676.8,1290.9L661.6,1308.6L646.3,1290.9Z" fill="#b274de"/>
<path d="M676.9,1273.1L692.2,1290.9L676.9,1308.6L661.7,1290.9Z" fill="#b274de"/>
<path d="M692.2,1273.1L707.5,1290.8L692.2,1308.6L677.0,1290.8Z" fill="#b274de"/>
<path d="M707.6,1268.1L722.8,1285.9L707.6,1303.6L692.3,1285.9Z" fill="#b274de"/>
<path d="M722.9,1262.5L738.1,1280.2L722.9,1298.0L707.6,1280.2Z" fill="#b274de"/>
<path d="M738.2,1255.9L753.5,1273.7L738.2,1291.4L723.0,1273.7Z" fill="#b274de"/>
<path d="M753.5,1248.5L768.8,1266.2L753.5,1284.0L738.3,1266.2Z" fill="#b274de"/>
<path d="M768.8,1240.2L784.1,1258.0L768.8,1275.7L753.6,1258.0Z" fill="#b274de"/>
<path d="M784.2,1230.8L799.4,1248.5L784.2,1266.3L768.9,1248.5Z" fill="#b274de"/>
<path d="M799.5,1218.5L814.7,1236.3L799.5,1254.0L784.2,1236.3Z" fill="#b274de"/>
<path d="M814.8,1203.4L830.0,1221.1L814.8,1238.9L799.5,1221.1Z" fill="#b274de"/>
<path d="M830.1,1185.6L845.4,1203.4L830.1,1221.1L814.9,1203.4Z" fill="#b274de"/>
<path d="M845.4,1167.2L860.7,1185.0L845.4,1202.7L830.2,1185.0Z" fill="#b274de"/>
<path d="M860.8,1148.1L876.0,1165.8L860.8,1183.6L845.5,1165.8Z" fill="#b274de"/>
<path d="M876.1,1132.1L891.3,1149.8L876.1,1167.6L860.8,1149.8Z" fill="#b274de"/>
<path d="M891.4,1125.9L906.7,1143.7L891.4,1161.4L876.2,1143.7Z" fill="#b274de"/>
<path d="M906.7,1124.3L922.0,1142.0L906.7,1159.8L891.5,1142.0Z" fill="#b274de"/>
<path d="M922.0,1106.9L937.3,1124.7L922.0,1142.4L906.8,1124.7Z" fill="#b274de"/>
<path d="M937.4,1089.2L952.6,1106.9L937.4,1124.7L922.1,1106.9Z" fill="#b274de"/>
<path d="M952.7,1074.7L967.9,1092.5L952.7,1110.2L937.4,1092.5Z" fill="#b274de"/>
<path d="M968.0,1063.9L983.2,1081.7L968.0,1099.4L952.8,1081.7Z" fill="#b274de"/>
<path d="M983.3,1082.6L998.6,1100.4L983.3,1118.1L968.1,1100.4Z" fill="#b274de"/>
<path d="M998.6,1101.3L1013.9,1119.0L998.6,1136.8L983.4,1119.0Z" fill="#b274de"/>
<path d="M1014.0,1113.6L1029.2,1131.3L1014.0,1149.1L998.7,1131.3Z" fill="#b274de"/>
<path d="M1029.3,1100.4L1044.5,1118.1L1029.3,1135.9L1014.0,1118.1Z" fill="#b274de"/>
<path d="M1044.6,1087.2L1059.8,1104.9L1044.6,1122.7L1029.3,1104.9Z" fill="#b274de"/>
<path d="M1059.9,1077.0L1075.2,1094.8L1059.9,1112.5L1044.7,1094.8Z" fill="#b274de"/>
<path d="M1075.2,1094.1L1090.5,1111.8L1075.2,1129.6L1060.0,1111.8Z" fill="#b274de"/>
<path d="M1090.6,1111.1L1105.8,1128.9L1090.6,1146.6L1075.3,1128.9Z" fill="#b274de"/>
<path d="M1105.9,1107.7L1121.1,1125.5L1105.9,1143.2L1090.6,1125.5Z" fill="#b274de"/>
<path d="M1121.2,1104.3L1136.5,1122.1L1121.2,1139.8L1106.0,1122.1Z" fill="#b274de"/>
<path d="M1136.5,1121.7L1151.8,1139.4L1136.5,1157.2L1121.3,1139.4Z" fill="#b274de"/>
<path d="M1151.8,1135.0L1167.1,1152.7L1151.8,1170.5L1136.6,1152.7Z" fill="#b274de"/>
<path d="M1167.2,1132.1L1182.4,1149.9L1167.2,1167.6L1151.9,1149.9Z" fill="#b274de"/>
<path d="M1182.5,1125.0L1197.7,1142.8L1182.5,1160.5L1167.2,1142.8Z" fill="#b274de"/>
<path d="M1197.8,1100.8L1213.0,1118.5L1197.8,1136.3L1182.5,1118.5Z" fill="#b274de"/>
<path d="M1213.1,1087.1L1228.4,1104.8L1213.1,1122.6L1197.9,1104.8Z" fill="#b274de"/>
<path d="M1228.4,1077.9L1243.7,1095.6L1228.4,1113.4L1213.2,1095.6Z" fill="#b274de"/>
<path d="M1243.8,1071.9L1259.0,1089.6L1243.8,1107.4L1228.5,1089.6Z" fill="#b274de"/>
<path d="M1259.1,1094.6L1274.3,1112.4L1259.1,1130.1L1243.8,1112.4Z" fill="#b274de"/>
<path d="M1274.4,1119.2L1289.7,1137.0L1274.4,1154.7L1259.2,1137.0Z" fill="#b274de"/>
<path d="M1289.7,1102.0L1305.0,1119.7L1289.7,1137.5L1274.5,1119.7Z" fill="#b274de"/>
<path d="M1305.0,1074.2L1320.3,1091.9L1305.0,1109.7L1289.8,1091.9Z" fill="#b274de"/>
<path d="M1320.4,1089.7L1335.6,1107.5L1320.4,1125.2L1305.1,1107.5Z" fill="#b274de"/>
<path d="M1335.7,1105.2L1350.9,1123.0L1335.7,1140.7L1320.4,1123.0Z" fill="#b274de"/>
<path d="M1351.0,1120.8L1366.2,1138.5L1351.0,1156.3L1335.8,1138.5Z" fill="#b274de"/>
<path d="M1366.3,1108.8L1381.6,1126.6L1366.3,1144.3L1351.1,1126.6Z" fill="#b274de"/>
<path d="M1381.6,1096.9L1396.9,1114.7L1381.6,1132.4L1366.4,1114.7Z" fill="#b274de"/>
<path d="M1397.0,1110.5L1412.2,1128.3L1397.0,1146.0L1381.7,1128.3Z" fill="#b274de"/>
<path d="M1412.3,1124.2L1427.5,1141.9L1412.3,1159.7L1397.0,1141.9Z" fill="#b274de"/>
<path d="M1427.6,1103.7L1442.9,1121.5L1427.6,1139.2L1412.4,1121.5Z" fill="#b274de"/>
<path d="M1442.9,1115.8L1458.2,1133.6L1442.9,1151.3L1427.7,1133.6Z" fill="#b274de"/>
<path d="M1458.2,1110.1L1473.5,1127.9L1458.2,1145.6L1443.0,1127.9Z" fill="#b274de"/>
<path d="M1473.6,1091.1L1488.8,1108.8L1473.6,1126.6L1458.3,1108.8Z" fill="#b274de"/>
<path d="M1488.9,1112.5L1504.1,1130.3L1488.9,1148.0L1473.6,1130.3Z" fill="#b274de"/>
<path d="M1504.2,1133.9L1519.5,1151.7L1504.2,1169.4L1489.0,1151.7Z" fill="#b274de"/>
<path d="M1519.5,1139.0L1534.8,1156.7L1519.5,1174.5L1504.3,1156.7Z" fill="#b274de"/>
<path d="M1534.8,1127.6L1550.1,1145.3L1534.8,1163.1L1519.6,1145.3Z" fill="#b274de"/>
<path d="M1550.2,1123.8L1565.4,1141.6L1550.2,1159.3L1534.9,1141.6Z" fill="#b274de"/>
<path d="M1565.5,1131.4L1580.7,1149.1L1565.5,1166.9L1550.2,1149.1Z" fill="#b274de"/>
<path d="M1580.8,1134.8L1596.0,1152.6L1580.8,1170.3L1565.5,1152.6Z" fill="#b274de"/>
<path d="M1596.1,1128.7L1611.4,1146.5L1596.1,1164.2L1580.9,1146.5Z" fill="#b274de"/>
<path d="M1611.4,1128.7L1626.7,1146.5L1611.4,1164.2L1596.2,1146.5Z" fill="#b274de"/>
<path d="M1626.8,1128.7L1642.0,1146.5L1626.8,1164.2L1611.5,1146.5Z" fill="#b274de"/>
<path d="M1642.1,1128.7L1657.3,1146.5L1642.1,1164.2L1626.8,1146.5Z" fill="#b274de"/>
<path d="M1657.4,1128.7L1672.7,1146.5L1657.4,1164.2L1642.2,1146.5Z" fill="#b274de"/>
<path d="M1672.7,1128.7L1688.0,1146.5L1672.7,1164.2L1657.5,1146.5Z" fill="#b274de"/>
<path d="M1688.0,1128.7L1703.3,1146.5L1688.0,1164.2L1672.8,1146.5Z" fill="#b274de"/>
<path d="M1703.4,1128.7L1718.6,1146.5L1703.4,1164.2L1688.1,1146.5Z" fill="#b274de"/>
<path d="M1718.7,1154.9L1733.9,1172.6L1718.7,1190.4L1703.4,1172.6Z" fill="#b274de"/>
<path d="M355.2,1293.1L370.5,1292.6L385.8,1292.2L401.2,1291.7L416.5,1291.3L431.8,1290.8L447.1,1290.4L462.4,1289.9L477.8,1289.5L493.1,1289.0L508.4,1288.6L523.7,1288.0L539.0,1287.5L554.4,1287.0L569.7,1286.5L585.0,1286.0L600.3,1285.5L615.6,1284.9L631.0,1284.4L646.3,1283.9L661.6,1283.4L676.9,1282.9L692.2,1281.7L707.6,1272.8L722.9,1262.9L738.2,1246.1L753.5,1235.3L768.8,1223.5L784.2,1210.3L799.5,1202.4L814.8,1193.4L830.1,1185.5L845.4,1182.4L860.8,1180.6L876.1,1176.6L891.4,1172.6L906.7,1172.6L922.0,1172.6L937.4,1179.4L952.7,1195.4L968.0,1205.6L983.3,1211.3L998.6,1199.9L1014.0,1185.1L1029.3,1198.8L1044.6,1218.1L1059.9,1206.7L1075.2,1199.9L1090.6,1193.1L1105.9,1196.5L1121.2,1191.9L1136.5,1191.6L1151.8,1172.6L1167.2,1169.2L1182.5,1194.2L1197.8,1194.2L1213.1,1194.2L1228.4,1194.2L1243.8,1194.2L1259.1,1193.4L1274.4,1180.4L1289.7,1172.6L1305.0,1191.7L1320.4,1204.4L1335.7,1204.4L1351.0,1197.2L1366.3,1186.8L1381.6,1203.5L1397.0,1202.2L1412.3,1189.0L1427.6,1187.9L1442.9,1186.8L1458.2,1196.7L1473.6,1206.6L1488.9,1209.3L1504.2,1195.4L1519.5,1201.6L1534.8,1207.9L1550.2,1212.6L1565.5,1217.3L1580.8,1204.3L1596.1,1213.0L1611.4,1213.5L1626.8,1202.2L1642.1,1211.3L1657.4,1211.3L1672.7,1202.2L1688.0,1211.1L1703.4,1212.1L1718.7,1208.3" fill="none" stroke="#cc9c00" stroke-width="7" stroke-linejoin="round"/>
<path d="M335.3,1293.1L365.2,1275.8L365.2,1310.3Z" fill="#cc9c00"/>
<path d="M350.6,1292.6L380.5,1275.4L380.5,1309.9Z" fill="#cc9c00"/>
<path d="M365.9,1292.2L395.8,1274.9L395.8,1309.4Z" fill="#cc9c00"/>
<path d="M381.2,1291.7L411.1,1274.5L411.1,1309.0Z" fill="#cc9c00"/>
<path d="M396.6,1291.3L426.4,1274.0L426.4,1308.5Z" fill="#cc9c00"/>
<path d="M411.9,1290.8L441.8,1273.6L441.8,1308.1Z" fill="#cc9c00"/>
<path d="M427.2,1290.4L457.1,1273.1L457.1,1307.6Z" fill="#cc9c00"/>
<path d="M442.5,1289.9L472.4,1272.7L472.4,1307.2Z" fill="#cc9c00"/>
<path d="M457.8,1289.5L487.7,1272.2L487.7,1306.7Z" fill="#cc9c00"/>
<path d="M473.2,1289.0L503.0,1271.8L503.0,1306.3Z" fill="#cc9c00"/>
<path d="M488.5,1288.6L518.4,1271.3L518.4,1305.8Z" fill="#cc9c00"/>
<path d="M503.8,1288.0L533.7,1270.8L533.7,1305.3Z" fill="#cc9c00"/>
<path d="M519.1,1287.5L549.0,1270.3L549.0,1304.8Z" fill="#cc9c00"/>
<path d="M534.4,1287.0L564.3,1269.8L564.3,1304.3Z" fill="#cc9c00"/>
<path d="M549.8,1286.5L579.6,1269.2L579.6,1303.7Z" fill="#cc9c00"/>
<path d="M565.1,1286.0L595.0,1268.7L595.0,1303.2Z" fill="#cc9c00"/>
<path d="M580.4,1285.5L610.3,1268.2L610.3,1302.7Z" fill="#cc9c00"/>
<path d="M595.7,1284.9L625.6,1267.7L625.6,1302.2Z" fill="#cc9c00"/>
<path d="M611.0,1284.4L640.9,1267.2L640.9,1301.7Z" fill="#cc9c00"/>
<path d="M626.4,1283.9L656.2,1266.7L656.2,1301.2Z" fill="#cc9c00"/>
<path d="M641.7,1283.4L671.6,1266.1L671.6,1300.6Z" fill="#cc9c00"/>
<path d="M657.0,1282.9L686.9,1265.6L686.9,1300.1Z" fill="#cc9c00"/>
<path d="M672.3,1281.7L702.2,1264.5L702.2,1299.0Z" fill="#cc9c00"/>
<path d="M687.6,1272.8L717.5,1255.6L717.5,1290.1Z" fill="#cc9c00"/>
<path d="M703.0,1262.9L732.8,1245.6L732.8,1280.1Z" fill="#cc9c00"/>
<path d="M718.3,1246.1L748.2,1228.8L748.2,1263.3Z" fill="#cc9c00"/>
<path d="M733.6,1235.3L763.5,1218.1L763.5,1252.6Z" fill="#cc9c00"/>
<path d="M748.9,1223.5L778.8,1206.2L778.8,1240.7Z" fill="#cc9c00"/>
<path d="M764.2,1210.3L794.1,1193.0L794.1,1227.5Z" fill="#cc9c00"/>
<path d="M779.6,1202.4L809.4,1185.2L809.4,1219.7Z" fill="#cc9c00"/>
<path d="M794.9,1193.4L824.8,1176.2L824.8,1210.7Z" fill="#cc9c00"/>
<path d="M810.2,1185.5L840.1,1168.3L840.1,1202.8Z" fill="#cc9c00"/>
<path d="M825.5,1182.4L855.4,1165.2L855.4,1199.7Z" fill="#cc9c00"/>
<path d="M840.8,1180.6L870.7,1163.3L870.7,1197.8Z" fill="#cc9c00"/>
<path d="M856.2,1176.6L886.0,1159.3L886.0,1193.8Z" fill="#cc9c00"/>
<path d="M871.5,1172.6L901.4,1155.4L901.4,1189.9Z" fill="#cc9c00"/>
<path d="M886.8,1172.6L916.7,1155.4L916.7,1189.9Z" fill="#cc9c00"/>
<path d="M902.1,1172.6L932.0,1155.4L932.0,1189.9Z" fill="#cc9c00"/>
<path d="M917.4,1179.4L947.3,1162.2L947.3,1196.7Z" fill="#cc9c00"/>
<path d="M932.8,1195.4L962.6,1178.1L962.6,1212.6Z" fill="#cc9c00"/>
<path d="M948.1,1205.6L978.0,1188.3L978.0,1222.8Z" fill="#cc9c00"/>
<path d="M963.4,1211.3L993.3,1194.0L993.3,1228.5Z" fill="#cc9c00"/>
<path d="M978.7,1199.9L1008.6,1182.6L1008.6,1217.1Z" fill="#cc9c00"/>
<path d="M994.0,1185.1L1023.9,1167.9L1023.9,1202.4Z" fill="#cc9c00"/>
<path d="M1009.4,1198.8L1039.2,1181.5L1039.2,1216.0Z" fill="#cc9c00"/>
<path d="M1024.7,1218.1L1054.6,1200.8L1054.6,1235.3Z" fill="#cc9c00"/>
<path d="M1040.0,1206.7L1069.9,1189.5L1069.9,1224.0Z" fill="#cc9c00"/>
<path d="M1055.3,1199.9L1085.2,1182.6L1085.2,1217.1Z" fill="#cc9c00"/>
<path d="M1070.6,1193.1L1100.5,1175.8L1100.5,1210.3Z" fill="#cc9c00"/>
<path d="M1086.0,1196.5L1115.8,1179.2L1115.8,1213.7Z" fill="#cc9c00"/>
<path d="M1101.3,1191.9L1131.2,1174.7L1131.2,1209.2Z" fill="#cc9c00"/>
<path d="M1116.6,1191.6L1146.5,1174.3L1146.5,1208.8Z" fill="#cc9c00"/>
<path d="M1131.9,1172.6L1161.8,1155.4L1161.8,1189.9Z" fill="#cc9c00"/>
<path d="M1147.2,1169.2L1177.1,1152.0L1177.1,1186.5Z" fill="#cc9c00"/>
<path d="M1162.6,1194.2L1192.4,1177.0L1192.4,1211.5Z" fill="#cc9c00"/>
<path d="M1177.9,1194.2L1207.8,1177.0L1207.8,1211.5Z" fill="#cc9c00"/>
<path d="M1193.2,1194.2L1223.1,1177.0L1223.1,1211.5Z" fill="#cc9c00"/>
<path d="M1208.5,1194.2L1238.4,1177.0L1238.4,1211.5Z" fill="#cc9c00"/>
<path d="M1223.8,1194.2L1253.7,1177.0L1253.7,1211.5Z" fill="#cc9c00"/>
<path d="M1239.2,1193.4L1269.0,1176.2L1269.0,1210.7Z" fill="#cc9c00"/>
<path d="M1254.5,1180.4L1284.4,1163.2L1284.4,1197.7Z" fill="#cc9c00"/>
<path d="M1269.8,1172.6L1299.7,1155.4L1299.7,1189.9Z" fill="#cc9c00"/>
<path d="M1285.1,1191.7L1315.0,1174.5L1315.0,1209.0Z" fill="#cc9c00"/>
<path d="M1300.4,1204.4L1330.3,1187.2L1330.3,1221.7Z" fill="#cc9c00"/>
<path d="M1315.8,1204.4L1345.6,1187.2L1345.6,1221.7Z" fill="#cc9c00"/>
<path d="M1331.1,1197.2L1361.0,1179.9L1361.0,1214.4Z" fill="#cc9c00"/>
<path d="M1346.4,1186.8L1376.3,1169.6L1376.3,1204.1Z" fill="#cc9c00"/>
<path d="M1361.7,1203.5L1391.6,1186.2L1391.6,1220.7Z" fill="#cc9c00"/>
<path d="M1377.0,1202.2L1406.9,1185.0L1406.9,1219.5Z" fill="#cc9c00"/>
<path d="M1392.4,1189.0L1422.2,1171.7L1422.2,1206.2Z" fill="#cc9c00"/>
<path d="M1407.7,1187.9L1437.6,1170.7L1437.6,1205.2Z" fill="#cc9c00"/>
<path d="M1423.0,1186.8L1452.9,1169.6L1452.9,1204.1Z" fill="#cc9c00"/>
<path d="M1438.3,1196.7L1468.2,1179.5L1468.2,1214.0Z" fill="#cc9c00"/>
<path d="M1453.6,1206.6L1483.5,1189.4L1483.5,1223.9Z" fill="#cc9c00"/>
<path d="M1469.0,1209.3L1498.8,1192.1L1498.8,1226.6Z" fill="#cc9c00"/>
<path d="M1484.3,1195.4L1514.2,1178.1L1514.2,1212.6Z" fill="#cc9c00"/>
<path d="M1499.6,1201.6L1529.5,1184.4L1529.5,1218.9Z" fill="#cc9c00"/>
<path d="M1514.9,1207.9L1544.8,1190.6L1544.8,1225.1Z" fill="#cc9c00"/>
<path d="M1530.2,1212.6L1560.1,1195.3L1560.1,1229.8Z" fill="#cc9c00"/>
<path d="M1545.6,1217.3L1575.4,1200.1L1575.4,1234.6Z" fill="#cc9c00"/>
<path d="M1560.9,1204.3L1590.8,1187.1L1590.8,1221.6Z" fill="#cc9c00"/>
<path d="M1576.2,1213.0L1606.1,1195.8L1606.1,1230.3Z" fill="#cc9c00"/>
<path d="M1591.5,1213.5L1621.4,1196.3L1621.4,1230.8Z" fill="#cc9c00"/>
<path d="M1606.8,1202.2L1636.7,1184.9L1636.7,1219.4Z" fill="#cc9c00"/>
<path d="M1622.2,1211.3L1652.0,1194.0L1652.0,1228.5Z" fill="#cc9c00"/>
<path d="M1637.5,1211.3L1667.4,1194.0L1667.4,1228.5Z" fill="#cc9c00"/>
<path d="M1652.8,1202.2L1682.7,1184.9L1682.7,1219.4Z" fill="#cc9c00"/>
<path d="M1668.1,1211.1L1698.0,1193.9L1698.0,1228.4Z" fill="#cc9c00"/>
<path d="M1683.4,1212.1L1713.3,1194.9L1713.3,1229.4Z" fill="#cc9c00"/>
<path d="M1698.8,1208.3L1728.6,1191.1L1728.6,1225.6Z" fill="#cc9c00"/>
<path d="M355.2,1170.6L370.5,1152.3L385.8,1133.6L401.2,1114.8L416.5,1095.7L431.8,1076.6L447.1,1057.3L462.4,1038.0L477.8,1018.8L493.1,999.5L508.4,980.3L523.7,961.2L539.0,942.1L554.4,923.2L569.7,904.4L585.0,885.7L600.3,867.1L615.6,848.7L631.0,830.4L646.3,812.3L661.6,794.4L676.9,776.6L692.2,759.0L707.6,741.6L722.9,724.3L738.2,707.2L753.5,690.3L768.8,673.5L784.2,657.0L799.5,640.6L814.8,624.4L830.1,608.4L845.4,592.6L860.8,577.1L876.1,561.7L891.4,546.5L906.7,531.5L922.0,516.8L937.4,502.3L952.7,488.0L968.0,474.0L983.3,460.3L998.6,446.8L1014.0,433.6L1029.3,420.6L1044.6,408.0L1059.9,395.7L1075.2,383.7L1090.6,372.1L1105.9,360.8L1121.2,349.8L1136.5,339.2L1151.8,329.0L1167.2,319.2L1182.5,309.8L1197.8,300.8L1213.1,292.2L1228.4,284.0L1243.8,276.3L1259.1,269.0L1274.4,262.1L1289.7,255.8L1305.0,249.8L1320.4,244.4L1335.7,239.4L1351.0,234.8L1366.3,230.7L1381.6,227.1L1397.0,223.9L1412.3,221.2L1427.6,218.9L1442.9,217.1L1458.2,215.6L1473.6,214.6L1488.9,214.0L1504.2,213.8L1519.5,213.9L1534.8,214.3L1550.2,215.1L1565.5,216.2L1580.8,217.5L1596.1,219.1L1611.4,220.9L1626.8,222.9L1642.1,225.0L1657.4,227.3L1672.7,229.6L1688.0,232.0L1703.4,234.4L1718.7,236.7" fill="none" stroke="#00ccce" stroke-width="7" stroke-linejoin="round"/>
<path d="M375.1,1170.6L345.2,1153.4L345.2,1187.9Z" fill="#00ccce"/>
<path d="M390.4,1152.3L360.6,1135.0L360.6,1169.5Z" fill="#00ccce"/>
<path d="M405.8,1133.6L375.9,1116.4L375.9,1150.9Z" fill="#00ccce"/>
<path d="M421.1,1114.8L391.2,1097.5L391.2,1132.0Z" fill="#00ccce"/>
<path d="M436.4,1095.7L406.5,1078.5L406.5,1113.0Z" fill="#00ccce"/>
<path d="M451.7,1076.6L421.8,1059.3L421.8,1093.8Z" fill="#00ccce"/>
<path d="M467.0,1057.3L437.2,1040.1L437.2,1074.6Z" fill="#00ccce"/>
<path d="M482.4,1038.0L452.5,1020.8L452.5,1055.3Z" fill="#00ccce"/>
<path d="M497.7,1018.8L467.8,1001.5L467.8,1036.0Z" fill="#00ccce"/>
<path d="M513.0,999.5L483.1,982.3L483.1,1016.8Z" fill="#00ccce"/>
<path d="M528.3,980.3L498.4,963.1L498.4,997.6Z" fill="#00ccce"/>
<path d="M543.6,961.2L513.8,943.9L513.8,978.4Z" fill="#00ccce"/>
<path d="M559.0,942.1L529.1,924.9L529.1,959.4Z" fill="#00ccce"/>
<path d="M574.3,923.2L544.4,905.9L544.4,940.4Z" fill="#00ccce"/>
<path d="M589.6,904.4L559.7,887.1L559.7,921.6Z" fill="#00ccce"/>
<path d="M604.9,885.7L575.0,868.4L575.0,902.9Z" fill="#00ccce"/>
<path d="M620.2,867.1L590.4,849.8L590.4,884.3Z" fill="#00ccce"/>
<path d="M635.6,848.7L605.7,831.4L605.7,865.9Z" fill="#00ccce"/>
<path d="M650.9,830.4L621.0,813.2L621.0,847.7Z" fill="#00ccce"/>
<path d="M666.2,812.3L636.3,795.1L636.3,829.6Z" fill="#00ccce"/>
<path d="M681.5,794.4L651.6,777.1L651.6,811.6Z" fill="#00ccce"/>
<path d="M696.8,776.6L667.0,759.4L667.0,793.9Z" fill="#00ccce"/>
<path d="M712.2,759.0L682.3,741.7L682.3,776.2Z" fill="#00ccce"/>
<path d="M727.5,741.6L697.6,724.3L697.6,758.8Z" fill="#00ccce"/>
<path d="M742.8,724.3L712.9,707.0L712.9,741.5Z" fill="#00ccce"/>
<path d="M758.1,707.2L728.2,689.9L728.2,724.4Z" fill="#00ccce"/>
<path d="M773.4,690.3L743.6,673.0L743.6,707.5Z" fill="#00ccce"/>
<path d="M788.8,673.5L758.9,656.3L758.9,690.8Z" fill="#00ccce"/>
<path d="M804.1,657.0L774.2,639.7L774.2,674.2Z" fill="#00ccce"/>
<path d="M819.4,640.6L789.5,623.4L789.5,657.9Z" fill="#00ccce"/>
<path d="M834.7,624.4L804.8,607.2L804.8,641.7Z" fill="#00ccce"/>
<path d="M850.0,608.4L820.2,591.2L820.2,625.7Z" fill="#00ccce"/>
<path d="M865.4,592.6L835.5,575.4L835.5,609.9Z" fill="#00ccce"/>
<path d="M880.7,577.1L850.8,559.8L850.8,594.3Z" fill="#00ccce"/>
<path d="M896.0,561.7L866.1,544.4L866.1,578.9Z" fill="#00ccce"/>
<path d="M911.3,546.5L881.4,529.2L881.4,563.7Z" fill="#00ccce"/>
<path d="M926.6,531.5L896.8,514.3L896.8,548.8Z" fill="#00ccce"/>
<path d="M942.0,516.8L912.1,499.5L912.1,534.0Z" fill="#00ccce"/>
<path d="M957.3,502.3L927.4,485.0L927.4,519.5Z" fill="#00ccce"/>
<path d="M972.6,488.0L942.7,470.8L942.7,505.3Z" fill="#00ccce"/>
<path d="M987.9,474.0L958.0,456.8L958.0,491.3Z" fill="#00ccce"/>
<path d="M1003.2,460.3L973.4,443.0L973.4,477.5Z" fill="#00ccce"/>
<path d="M1018.6,446.8L988.7,429.5L988.7,464.0Z" fill="#00ccce"/>
<path d="M1033.9,433.6L1004.0,416.3L1004.0,450.8Z" fill="#00ccce"/>
<path d="M1049.2,420.6L1019.3,403.4L1019.3,437.9Z" fill="#00ccce"/>
<path d="M1064.5,408.0L1034.6,390.8L1034.6,425.3Z" fill="#00ccce"/>
<path d="M1079.8,395.7L1050.0,378.5L1050.0,413.0Z" fill="#00ccce"/>
<path d="M1095.2,383.7L1065.3,366.5L1065.3,401.0Z" fill="#00ccce"/>
<path d="M1110.5,372.1L1080.6,354.8L1080.6,389.3Z" fill="#00ccce"/>
<path d="M1125.8,360.8L1095.9,343.5L1095.9,378.0Z" fill="#00ccce"/>
<path d="M1141.1,349.8L1111.2,332.6L1111.2,367.1Z" fill="#00ccce"/>
<path d="M1156.4,339.2L1126.6,322.0L1126.6,356.5Z" fill="#00ccce"/>
<path d="M1171.8,329.0L1141.9,311.8L1141.9,346.3Z" fill="#00ccce"/>
<path d="M1187.1,319.2L1157.2,301.9L1157.2,336.4Z" fill="#00ccce"/>
<path d="M1202.4,309.8L1172.5,292.5L1172.5,327.0Z" fill="#00ccce"/>
<path d="M1217.7,300.8L1187.8,283.5L1187.8,318.0Z" fill="#00ccce"/>
<path d="M1233.0,292.2L1203.2,274.9L1203.2,309.4Z" fill="#00ccce"/>
<path d="M1248.4,284.0L1218.5,266.8L1218.5,301.3Z" fill="#00ccce"/>
<path d="M1263.7,276.3L1233.8,259.0L1233.8,293.5Z" fill="#00ccce"/>
<path d="M1279.0,269.0L1249.1,251.7L1249.1,286.2Z" fill="#00ccce"/>
<path d="M1294.3,262.1L1264.4,244.9L1264.4,279.4Z" fill="#00ccce"/>
<path d="M1309.6,255.8L1279.8,238.5L1279.8,273.0Z" fill="#00ccce"/>
<path d="M1325.0,249.8L1295.1,232.6L1295.1,267.1Z" fill="#00ccce"/>
<path d="M1340.3,244.4L1310.4,227.1L1310.4,261.6Z" fill="#00ccce"/>
<path d="M1355.6,239.4L1325.7,222.1L1325.7,256.6Z" fill="#00ccce"/>
<path d="M1370.9,234.8L1341.0,217.6L1341.0,252.1Z" fill="#00ccce"/>
<path d="M1386.2,230.7L1356.4,213.5L1356.4,248.0Z" fill="#00ccce"/>
<path d="M1401.6,227.1L1371.7,209.8L1371.7,244.3Z" fill="#00ccce"/>
<path d="M1416.9,223.9L1387.0,206.7L1387.0,241.2Z" fill="#00ccce"/>
<path d="M1432.2,221.2L1402.3,203.9L1402.3,238.4Z" fill="#00ccce"/>
<path d="M1447.5,218.9L1417.6,201.7L1417.6,236.2Z" fill="#00ccce"/>
<path d="M1462.8,217.1L1433.0,199.8L1433.0,234.3Z" fill="#ff0000"/>
<path d="M1478.2,215.6L1448.3,198.4L1448.3,232.9Z" fill="#ff0000"/>
<path d="M1493.5,214.6L1463.6,197.4L1463.6,231.9Z" fill="#ff0000"/>
<path d="M1508.8,214.0L1478.9,196.7L1478.9,231.2Z" fill="#ff0000"/>
<path d="M1524.1,213.8L1494.2,196.5L1494.2,231.0Z" fill="#ff0000"/>
<path d="M1539.4,213.9L1509.6,196.6L1509.6,231.1Z" fill="#ff0000"/>
<path d="M1554.8,214.3L1524.9,197.1L1524.9,231.6Z" fill="#ff0000"/>
<path d="M1570.1,215.1L1540.2,197.9L1540.2,232.4Z" fill="#ff0000"/>
<path d="M1585.4,216.2L1555.5,198.9L1555.5,233.4Z" fill="#ff0000"/>
<path d="M1600.7,217.5L1570.8,200.3L1570.8,234.8Z" fill="#ff0000"/>
<path d="M1616.0,219.1L1586.2,201.8L1586.2,236.3Z" fill="#ff0000"/>
<path d="M1631.4,220.9L1601.5,203.6L1601.5,238.1Z" fill="#00ccce"/>
<path d="M1646.7,222.9L1616.8,205.6L1616.8,240.1Z" fill="#00ccce"/>
<path d="M1662.0,225.0L1632.1,207.8L1632.1,242.3Z" fill="#00ccce"/>
<path d="M1677.3,227.3L1647.4,210.0L1647.4,244.5Z" fill="#00ccce"/>
<path d="M1692.6,229.6L1662.8,212.3L1662.8,246.8Z" fill="#00ccce"/>
<path d="M1708.0,232.0L1678.1,214.7L1678.1,249.2Z" fill="#00ccce"/>
<path d="M1723.3,234.4L1693.4,217.1L1693.4,251.6Z" fill="#00ccce"/>
<path d="M1738.6,236.7L1708.7,219.5L1708.7,254.0Z" fill="#00ccce"/>
</g>
<path d="M1167,40.5V1405" stroke="#a3303a" stroke-width="3" stroke-dasharray="16 16.8"/>
<path d="M1431,160.5H1602M1600.2,159V285M1598,283.2H1440M1432.5,159V285" fill="none" stroke="#111" stroke-width="3.2" stroke-dasharray="18.4 14.3"/>
<g stroke="#000" stroke-width="5" fill="#000">
<path d="M1405,423.3L1480,312" fill="none"/>
<path d="M1497.2,287.1L1461.8,317.2L1481.1,330Z" stroke="none"/>
<path d="M1279.6,867.2L1196,951" fill="none"/>
<path d="M1175.9,971.8L1200.2,932.1L1214.7,948Z" stroke="none"/>
</g>
<path d="M355.2,1406.8V1380.8M355.2,42.9V68.9M508.4,1406.8V1393.8M508.4,42.9V55.9M661.6,1406.8V1380.8M661.6,42.9V68.9M814.8,1406.8V1393.8M814.8,42.9V55.9M968.0,1406.8V1380.8M968.0,42.9V68.9M1121.2,1406.8V1393.8M1121.2,42.9V55.9M1274.4,1406.8V1380.8M1274.4,42.9V68.9M1427.6,1406.8V1393.8M1427.6,42.9V55.9M1580.8,1406.8V1380.8M1580.8,42.9V68.9M1734.0,1406.8V1393.8M1734.0,42.9V55.9M202.6,1293.1H228.6M1886.8,1293.1H1860.8M202.6,1179.4H215.6M1886.8,1179.4H1873.8M202.6,1065.8H228.6M1886.8,1065.8H1860.8M202.6,952.1H215.6M1886.8,952.1H1873.8M202.6,838.5H228.6M1886.8,838.5H1860.8M202.6,724.8H215.6M1886.8,724.8H1873.8M202.6,611.1H228.6M1886.8,611.1H1860.8M202.6,497.5H215.6M1886.8,497.5H1873.8M202.6,383.8H228.6M1886.8,383.8H1860.8M202.6,270.2H215.6M1886.8,270.2H1873.8M202.6,156.5H228.6M1886.8,156.5H1860.8" stroke="#000" stroke-width="4.5"/>
<rect x="202.6" y="42.9" width="1684.2" height="1363.9" fill="none" stroke="#000" stroke-width="5.3"/>
<path d="M255,129.7H417.4" stroke="#515151" stroke-width="7"/>
<rect x="323.3" y="117.7" width="26" height="24" fill="#515151"/>
<text x="437" y="150.7" class="lg"><tspan>C</tspan><tspan class="sb" dx="0" dy="14" style="">1</tspan></text>
<path d="M255,216.9H417.4" stroke="#f43e42" stroke-width="7"/>
<circle cx="336.3" cy="216.9" r="14.0" fill="#f43e42"/>
<text x="437" y="237.9" class="lg"><tspan>C</tspan><tspan class="sb" dx="0" dy="14" style="">2</tspan></text>
<path d="M255,304.2H417.4" stroke="#166adc" stroke-width="7"/>
<path d="M336.3,284.2L353.6,314.1L319.1,314.1Z" fill="#166adc"/>
<text x="437" y="325.2" class="lg"><tspan>C</tspan><tspan class="sb" dx="0" dy="14" style="">3</tspan></text>
<path d="M255,391.4H417.4" stroke="#2eac6c" stroke-width="7"/>
<path d="M336.3,411.3L353.6,381.4L319.1,381.4Z" fill="#2eac6c"/>
<text x="437" y="412.4" class="lg"><tspan>C</tspan><tspan class="sb" dx="0" dy="14" style="">4</tspan></text>
<path d="M255,478.6H417.4" stroke="#b274de" stroke-width="7"/>
<path d="M336.3,460.9L351.6,478.6L336.3,496.4L321.1,478.6Z" fill="#b274de"/>
<text x="437" y="499.6" class="lg"><tspan>C</tspan><tspan class="sb" dx="0" dy="14" style="">5</tspan></text>
<path d="M255,565.9H417.4" stroke="#cc9c00" stroke-width="7"/>
<path d="M316.4,565.9L346.3,548.6L346.3,583.1Z" fill="#cc9c00"/>
<text x="437" y="586.9" class="lg"><tspan>C</tspan><tspan class="sb" dx="0" dy="14" style="">6</tspan></text>
<path d="M255,653.1H417.4" stroke="#00ccce" stroke-width="7"/>
<path d="M356.2,653.1L326.3,635.8L326.3,670.3Z" fill="#00ccce"/>
<text x="437" y="674.1" class="lg"><tspan>C</tspan><tspan class="sb" dx="-1" dy="14" style="font-style:italic">a</tspan></text>
<text x="355.2" y="1480.5" class="tk" text-anchor="middle">0</text>
<text x="661.6" y="1480.5" class="tk" text-anchor="middle">20</text>
<text x="968.0" y="1480.5" class="tk" text-anchor="middle">40</text>
<text x="1274.4" y="1480.5" class="tk" text-anchor="middle">60</text>
<text x="1580.8" y="1480.5" class="tk" text-anchor="middle">80</text>
<text x="1887.2" y="1480.5" class="tk" text-anchor="middle">100</text>
<text x="172" y="1309.1" class="tk" text-anchor="end">0</text>
<text x="172" y="1081.8" class="tk" text-anchor="end">20</text>
<text x="172" y="854.5" class="tk" text-anchor="end">40</text>
<text x="172" y="627.1" class="tk" text-anchor="end">60</text>
<text x="172" y="399.8" class="tk" text-anchor="end">80</text>
<text x="172" y="172.5" class="tk" text-anchor="end">100</text>
<text x="1121" y="1545" class="ti" text-anchor="middle">Altitude (km)</text>
<text transform="translate(86.6,713) rotate(-90)" class="ti" text-anchor="middle">Coverage rate (%)</text>
<text x="1227" y="470.3" class="an">Maximum interval</text>
<text x="1228" y="546" class="an">of <tspan class="cc">C</tspan><tspan class="sb it" dy="14">a</tspan><tspan dy="-14">: </tspan><tspan class="rd">71°~82°</tspan></text>
<text x="1306" y="832.3" class="an" style="font-size:63.3px">Maximum value</text>
<text x="1303" y="907" class="an">of <tspan class="cc">C</tspan><tspan class="sb" dy="14">4</tspan><tspan dy="-14">: </tspan><tspan class="rd">53°</tspan></text>
</svg>
</body></html>
